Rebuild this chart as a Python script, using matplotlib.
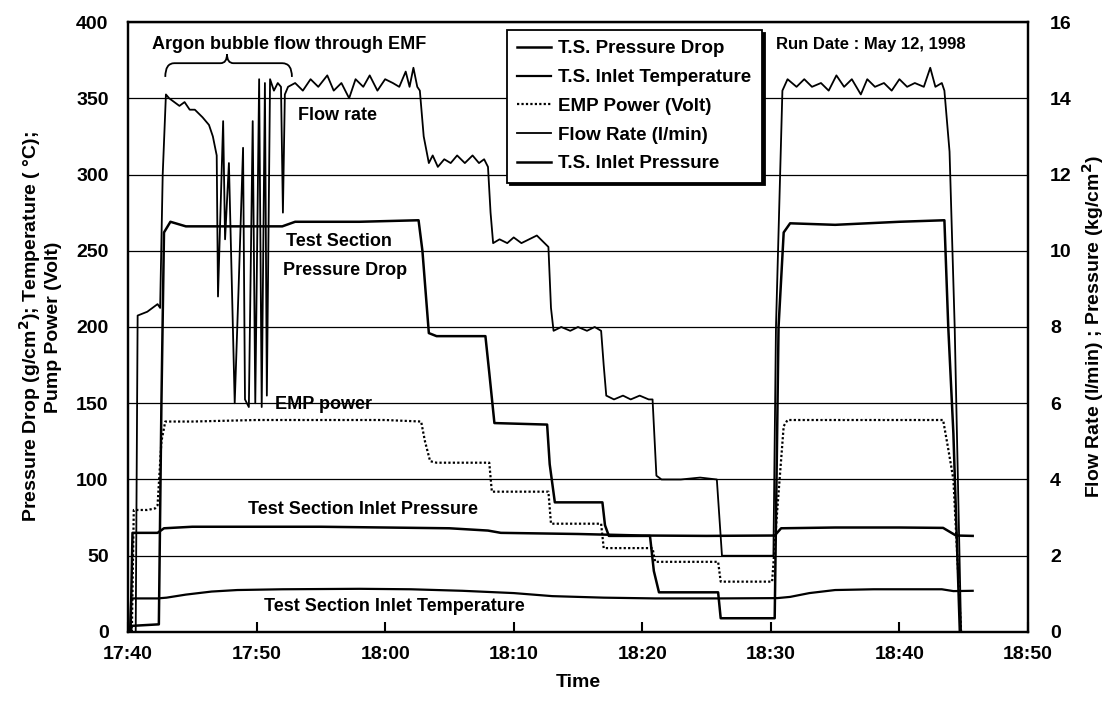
import matplotlib
matplotlib.use("Agg")
import matplotlib.pyplot as plt
from matplotlib.path import Path
from matplotlib.patches import PathPatch

plt.rcParams["font.family"] = ["Liberation Sans", "DejaVu Sans"]
plt.rcParams["font.weight"] = "bold"
plt.rcParams["axes.labelweight"] = "bold"

# time axis: minutes after 17:40
tick_minutes = [0, 10, 20, 30, 40, 50, 60, 70]
tick_labels = ["17:40", "17:50", "18:00", "18:10", "18:20", "18:30", "18:40", "18:50"]

# T.S. pressure drop (g/cm2), left axis
dp_t = [0.2, 0.3, 2.4, 2.6, 2.8, 3.3, 4.5, 8, 12, 13, 18, 22.6, 22.9, 23.4, 24,
        27.8, 28.1, 28.5, 32.6, 32.8, 33.2, 36.9, 37.1, 37.4, 40.6, 40.9, 41.3,
        45.9, 46.1, 50.3, 50.6, 51.0, 51.5, 55, 60, 63.5, 63.8, 64.2, 64.7]
dp_v = [0, 4, 5, 150, 262, 269, 266, 266, 266, 269, 269, 270, 250, 196, 194,
        194, 170, 137, 136, 110, 85, 85, 70, 63, 63, 40, 26,
        26, 9, 9, 200, 262, 268, 267, 269, 270, 200, 130, 0]

# T.S. inlet temperature (C), left axis
temp_t = [0.15, 0.25, 2.3, 3, 4.5, 6.5, 8.5, 12, 18, 22, 26, 30, 33, 37, 41, 46,
          50.5, 51.5, 53, 55, 58, 63.3, 64.2, 65.7]
temp_v = [0, 22, 22, 22.5, 24.5, 26.5, 27.5, 28, 28.3, 28, 27, 25.5, 23.5, 22.5,
          22, 22, 22.2, 23, 25.5, 27.5, 28, 28, 26.8, 27]

# EMP power (Volt), left axis
emp_t = [0.3, 0.45, 1.5, 2.1, 2.3, 2.6, 2.9, 5, 10, 15, 20, 22.8, 23.1, 23.5, 24,
         28.1, 28.3, 32.7, 32.9, 36.8, 37.0, 40.8, 41.0, 45.9, 46.1, 50.1, 50.5,
         51.0, 51.3, 63.4, 63.8, 64.2, 64.8]
emp_v = [0, 80, 80, 81, 83, 125, 138, 138, 139, 139, 139, 138, 125, 112, 111,
         111, 92, 92, 71, 71, 55, 55, 46, 46, 33, 33, 80,
         135, 139, 139, 120, 100, 0]

# flow rate (l/min), right axis
flow_t = [0.6, 0.75, 1.5, 2.3, 2.5, 2.7, 2.95, 3.2, 3.6, 4.0, 4.4, 4.8, 5.2, 5.8,
          6.3, 6.6, 6.9, 7.0, 7.4, 7.55, 7.85, 8.3, 8.6, 8.95, 9.1, 9.4, 9.7, 9.9,
          10.2, 10.4, 10.65, 10.8, 11.05, 11.35, 11.65, 11.9, 12.05, 12.2, 12.45,
          13, 13.6, 14.2, 14.8, 15.5, 16, 16.6, 17.2, 17.7, 18.3, 18.8, 19.4, 20,
          20.6, 21.1, 21.6, 21.9, 22.2, 22.5, 22.7, 23.0, 23.4, 23.7, 24.1, 24.6,
          25.1, 25.6, 26.2, 26.8, 27.3, 27.7, 28.0, 28.2, 28.4, 28.9, 29.5, 30,
          30.6, 31.2, 31.8, 32.4, 32.7, 32.9, 33.1, 33.7, 34.4, 35, 35.7, 36.3,
          36.8, 37.0, 37.2, 37.8, 38.5, 39.1, 39.8, 40.5, 40.8, 41.1, 41.5, 43,
          44.5, 45.8, 46.2, 48, 50.2, 50.4, 50.9, 51.3, 52, 52.6, 53.2, 53.9, 54.5,
          55.1, 55.7, 56.3, 57, 57.5, 58.1, 58.8, 59.4, 60, 60.6, 61.2, 61.9, 62.4,
          62.8, 63.3, 63.5, 63.9, 64.3, 64.8]
flow_v = [0, 8.3, 8.4, 8.6, 8.5, 12, 14.1, 14.0, 13.9, 13.8, 13.9, 13.7, 13.7, 13.5,
          13.3, 13.0, 12.5, 8.8, 13.4, 10.3, 12.3, 6.0, 9.0, 12.7, 6.1, 5.9, 13.4, 6.0,
          14.5, 5.9, 14.4, 6.2, 14.5, 14.2, 14.4, 14.3, 11.0, 14.1, 14.3,
          14.4, 14.2, 14.5, 14.3, 14.6, 14.2, 14.4, 14.0, 14.5, 14.3, 14.6, 14.2, 14.5,
          14.4, 14.3, 14.7, 14.3, 14.8, 14.3, 14.2, 13.0, 12.3, 12.5, 12.2, 12.4,
          12.3, 12.5, 12.3, 12.5, 12.3, 12.4, 12.2, 11.0, 10.2, 10.3, 10.2, 10.35,
          10.2, 10.3, 10.4, 10.2, 10.1, 8.5, 7.9, 8.0, 7.9, 8.0, 7.9, 8.0,
          7.9, 7.0, 6.2, 6.1, 6.2, 6.1, 6.2, 6.1, 6.1, 4.1, 4.0, 4.0,
          4.05, 4.0, 2.0, 2.0, 2.0, 8, 14.2, 14.5, 14.3, 14.5, 14.3, 14.4, 14.2,
          14.6, 14.3, 14.5, 14.1, 14.5, 14.3, 14.4, 14.2, 14.5, 14.3, 14.4, 14.3, 14.8,
          14.3, 14.4, 14.2, 12.6, 8.0, 0]

# T.S. inlet pressure (kg/cm2), right axis
pin_t = [0.2, 0.35, 2.3, 2.8, 5, 10, 15, 20, 25, 28, 29, 35, 40, 45, 50.3, 50.8,
         55, 60, 63.4, 64.4, 65.7]
pin_v = [0, 2.6, 2.6, 2.72, 2.76, 2.76, 2.76, 2.74, 2.72, 2.66, 2.6, 2.57, 2.53,
         2.52, 2.53, 2.72, 2.74, 2.74, 2.73, 2.53, 2.52]

fig = plt.figure(figsize=(11.13, 7.22), dpi=100)
ax = fig.add_axes([0.115, 0.1247, 0.8086, 0.8448])
ax2 = ax.twinx()

ax.set_xlim(0, 70)
ax.set_ylim(0, 400)
ax2.set_ylim(0, 16)
ax.set_yticks(range(0, 401, 50))
ax2.set_yticks(range(0, 17, 2))
ax.set_xticks(tick_minutes)
ax.set_xticklabels(tick_labels)
ax.grid(axis="y", color="black", linewidth=0.9)
ax.set_axisbelow(True)

for a in (ax, ax2):
    for s in a.spines.values():
        s.set_linewidth(1.6)
    a.tick_params(axis="y", length=0, labelsize=14, pad=14)
ax.tick_params(axis="x", direction="in", length=7, width=1.5, labelsize=14, pad=10)
ax2.tick_params(axis="y", pad=16)

l1, = ax.plot(dp_t, dp_v, color="black", lw=1.8, label="T.S. Pressure Drop")
l2, = ax.plot(temp_t, temp_v, color="black", lw=1.6, label="T.S. Inlet Temperature")
l3, = ax.plot(emp_t, emp_v, color="black", lw=1.6, ls=(0, (1, 1)), label="EMP Power (Volt)")
l4, = ax2.plot(flow_t, flow_v, color="black", lw=1.3, label="Flow Rate (l/min)")
l5, = ax2.plot(pin_t, pin_v, color="black", lw=1.8, label="T.S. Inlet Pressure")

leg = ax2.legend(handles=[l1, l2, l3, l4, l5], loc="upper left",
                 bbox_to_anchor=(0.421, 0.987), borderaxespad=0, fontsize=13.5,
                 frameon=True, fancybox=False, edgecolor="black", framealpha=1,
                 shadow={"color": "black", "alpha": 1},
                 handlelength=1.8, handletextpad=0.4, labelspacing=0.62,
                 borderpad=0.55)
leg.get_frame().set_linewidth(1.3)

ax.set_xlabel("Time", fontsize=14, labelpad=8)
ax.set_ylabel("Pressure Drop (g/cm$^{2}$); Temperature ( \u00b0C);\nPump Power (Volt)",
              fontsize=14, labelpad=10)
ax2.set_ylabel("Flow Rate (l/min) ; Pressure (kg/cm$^{2}$)", fontsize=14, labelpad=6)

# annotations
ax.text(1.9, 385, "Argon bubble flow through EMF", fontsize=13, va="center")
codes = [Path.MOVETO, Path.CURVE3, Path.CURVE3, Path.LINETO, Path.CURVE3, Path.CURVE3,
         Path.CURVE3, Path.CURVE3, Path.LINETO, Path.CURVE3, Path.CURVE3]
verts = [(2.9, 364), (2.9, 373), (3.6, 373), (7.2, 373), (7.7, 373), (7.7, 379),
         (7.7, 373), (8.2, 373), (12.0, 373), (12.75, 373), (12.75, 364)]
ax.add_patch(PathPatch(Path(verts, codes), fill=False, lw=1.3, color="black"))

ax.text(13.2, 339, "Flow rate", fontsize=13, va="center")
ax.text(16.4, 256, "Test Section", fontsize=13, va="center", ha="center")
ax.text(16.9, 237, "Pressure Drop", fontsize=13, va="center", ha="center")
ax.text(11.4, 149, "EMP power", fontsize=13, va="center")
ax.text(18.3, 80, "Test Section Inlet Pressure", fontsize=13, va="center", ha="center")
ax.text(20.7, 17, "Test Section Inlet Temperature", fontsize=13, va="center", ha="center")
ax.text(50.4, 385, "Run Date : May 12, 1998", fontsize=12, va="center")

fig.savefig("out.png", dpi=100)
